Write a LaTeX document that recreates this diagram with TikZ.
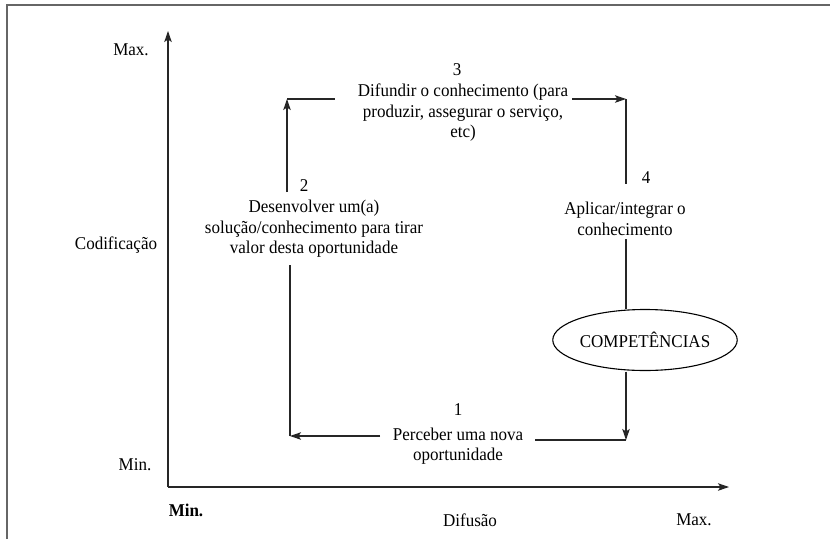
\documentclass[tikz,border=0pt]{standalone}
\usepackage{fontspec}
\setmainfont[FakeStretch=0.945]{Liberation Serif}
\usetikzlibrary{arrows.meta,shapes.geometric}
\begin{document}
\begin{tikzpicture}[x=1pt,y=-1pt,
  every node/.style={inner sep=0pt,outer sep=0pt,font=\fontsize{18}{20.5}\selectfont},
  txt/.style={align=center},
  ln/.style={line width=1.1pt,black!85},
  arr/.style={ln,-{Stealth[length=11pt,width=7.5pt,inset=2.5pt]}},
  frm/.style={line width=1.7pt,black!60}]
\useasboundingbox (0,0) rectangle (830,539);
\fill[white] (0,0) rectangle (830,539);
% frame
\coordinate (f1) at (7,539);
\coordinate (f2) at (7,5);
\coordinate (f3) at (830,5);
\draw[frm] (f1) -- (f2) -- (f3);
% axes
\coordinate (O) at (168,487);
\coordinate (ytip) at (168,31);
\coordinate (xtip) at (729,487);
\draw[arr] (O) -- (ytip);
\draw[arr] (O) -- (xtip);
% axis labels
\node (ymax) at (131,50) {Max.};
\node (ylab) at (116,245) {Codificação};
\node (ymin) at (135,465) {Min.};
\node (xmin) at (186,510) {\bfseries Min.};
\node (xlab) at (470,520) {Difusão};
\node (xmax) at (694,520) {Max.};
% numbers
\node (num3) at (457,70) {3};
\node (num2) at (304,186) {2};
\node (num4) at (646,178) {4};
\node (num1) at (458,410) {1};
% texts
\node[txt] (n3) at (463,113) {Difundir o conhecimento (para\\produzir, assegurar o serviço,\\etc)};
\node[txt] (n2) at (314,229) {Desenvolver um(a)\\solução/conhecimento para tirar\\valor desta oportunidade};
\node[txt] (n4) at (625,219) {Aplicar/integrar o\\conhecimento};
\node[txt] (n1) at (458,446) {Perceber uma nova\\oportunidade};
\node[draw,ellipse,line width=1.1pt,minimum width=155pt,minimum height=61pt] (comp) at (645,340) {COMPETÊNCIAS};
% connector points
\coordinate (a2) at (287,192);
\coordinate (k2) at (287,99);
\coordinate (l3) at (335,99);
\coordinate (r3) at (572,99);
\coordinate (k4) at (626,99);
\coordinate (a4) at (626,184);
\coordinate (b4) at (626,239);
\coordinate (k1r) at (626,440);
\coordinate (b1r) at (535,440);
\coordinate (b1l) at (380,436);
\coordinate (k1) at (290,436);
\coordinate (b2) at (290,265);
% connectors
\draw[arr] (a2) -- (k2);
\draw[ln] (k2) -- (l3);
\draw[arr] (r3) -- (k4);
\draw[ln] (k4) -- (a4);
\draw[ln] (b4) -- ([yshift=1pt]comp.north -| b4);
\draw[arr] ([yshift=-1pt]comp.south -| b4) -- (k1r);
\draw[ln] (k1r) -- (b1r);
\draw[arr] (b1l) -- (k1);
\draw[ln] (k1) -- (b2);
\end{tikzpicture}
\end{document}
